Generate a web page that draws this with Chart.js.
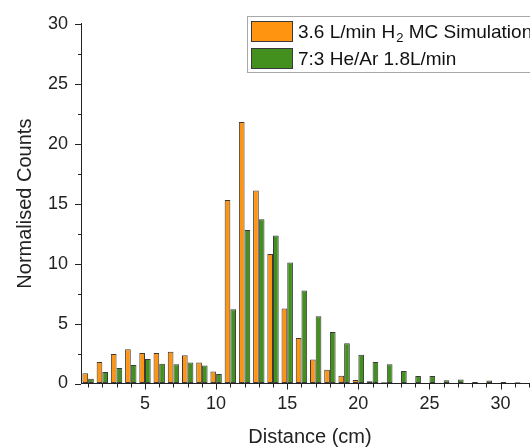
<!DOCTYPE html>
<html>
<head>
<meta charset="utf-8">
<script src="https://cdn.jsdelivr.net/npm/chart.js@4.4.1/dist/chart.umd.min.js"></script>
<style>
  html, body { margin: 0; padding: 0; background: #fff; overflow: hidden; width: 530px; height: 448px; }
  canvas { display: block; }
</style>
</head>
<body>
<canvas id="chart" width="545" height="448"></canvas>
<script>
// Bin centres (cm)
const distanceCm = [1, 2, 3, 4, 5, 6, 7, 8, 9, 10, 11, 12, 13, 14, 15, 16,
                    17, 18, 19, 20, 21, 22, 23, 24, 25, 26, 27, 28, 29, 30, 31, 32];

// 3.6 L/min H2 Monte Carlo simulation
const h2Simulation = [0.85, 1.8, 2.45, 2.85, 2.55, 2.55, 2.65, 2.35, 1.75, 1.0,
                      15.3, 21.8, 16.1, 10.8, 6.25, 3.8, 2.0, 1.15, 0.65, 0.3,
                      0.18, 0.1, 0.05, 0.02, 0, 0, 0, 0, 0, 0, 0, 0];

// 7:3 He/Ar at 1.8 L/min
const heArMeasured = [0.4, 0.95, 1.3, 1.55, 2.05, 1.65, 1.6, 1.75, 1.5, 0.8,
                      6.2, 12.8, 13.7, 12.35, 10.1, 7.75, 5.6, 4.3, 3.35, 2.4,
                      1.8, 1.6, 1.05, 0.62, 0.63, 0.27, 0.33, 0.12, 0.25, 0.12, 0.1, 0.05];

const xTickValues = [5, 10, 15, 20, 25, 30];
const yTickValues = [0, 5, 10, 15, 20, 25, 30];

const seriesNames = [
  ['3.6 L/min H', '2', ' MC Simulation'],
  ['7:3 He/Ar 1.8L/min', '', '']
];
const seriesColors = ['#FF9410', '#43901F'];
const outlineColor = '#3a3a3a';
const axisColor = '#222';
const FONT = 'Arial, "Liberation Sans", sans-serif';

// Outward tick marks: integers on x (long every 5), 2.5 steps on y (long every 5)
const axisTicks = {
  id: 'axisTicks',
  afterDraw(chart) {
    const { ctx, chartArea: a, scales: { x, y } } = chart;
    ctx.save();
    ctx.strokeStyle = axisColor;
    ctx.lineWidth = 1;
    ctx.beginPath();
    for (let v = Math.ceil(x.min); v <= x.max; v++) {
      const px = Math.round(x.getPixelForValue(v)) + 0.5;
      const len = v % 5 === 0 ? 6 : 4;
      ctx.moveTo(px, a.bottom);
      ctx.lineTo(px, a.bottom + len);
    }
    for (let v = y.min; v <= y.max; v += 2.5) {
      const py = Math.round(y.getPixelForValue(v)) + 0.5;
      const len = v % 5 === 0 ? 6 : 3;
      ctx.moveTo(a.left, py);
      ctx.lineTo(a.left - len, py);
    }
    ctx.stroke();
    ctx.restore();
  }
};

// Boxed legend in the upper right, with a subscript in the first entry
const boxedLegend = {
  id: 'boxedLegend',
  afterDraw(chart) {
    const { ctx } = chart;
    ctx.save();
    ctx.strokeStyle = '#a8a8a8';
    ctx.lineWidth = 1;
    ctx.strokeRect(247.5, 16.5, 320, 56);
    seriesNames.forEach((parts, i) => {
      const top = 21 + i * 27;
      ctx.fillStyle = seriesColors[i];
      ctx.fillRect(251, top, 42, 21);
      ctx.strokeStyle = outlineColor;
      ctx.strokeRect(251.5, top + 0.5, 41, 20);
      const base = top + 17;
      let tx = 298;
      ctx.fillStyle = '#111';
      ctx.textBaseline = 'alphabetic';
      ctx.textAlign = 'left';
      ctx.font = '19px ' + FONT;
      ctx.fillText(parts[0], tx, base);
      tx += ctx.measureText(parts[0]).width;
      if (parts[1]) {
        ctx.font = '13px ' + FONT;
        ctx.fillText(parts[1], tx + 1, base + 4);
        tx += ctx.measureText(parts[1]).width + 1;
      }
      if (parts[2]) {
        ctx.font = '19px ' + FONT;
        ctx.fillText(parts[2], tx, base);
      }
    });
    ctx.restore();
  }
};

const toPoints = vals => distanceCm.map((d, i) => ({ x: d, y: vals[i] }));

new Chart(document.getElementById('chart'), {
  type: 'bar',
  data: {
    datasets: [
      {
        label: seriesNames[0].join(''),
        data: toPoints(h2Simulation),
        backgroundColor: seriesColors[0],
        borderColor: outlineColor,
        borderWidth: 1,
        borderSkipped: false
      },
      {
        label: seriesNames[1].join(''),
        data: toPoints(heArMeasured),
        backgroundColor: seriesColors[1],
        borderColor: outlineColor,
        borderWidth: 1,
        borderSkipped: false
      }
    ]
  },
  options: {
    responsive: false,
    animation: false,
    categoryPercentage: 0.8,
    barPercentage: 1.0,
    layout: { padding: { top: 17, right: 6, bottom: 0, left: 0 } },
    plugins: { legend: { display: false }, tooltip: { enabled: false } },
    scales: {
      x: {
        type: 'linear',
        min: 0.5,
        max: 32.7,
        offset: false,
        grid: { display: true, drawOnChartArea: false, drawTicks: false, offset: false },
        border: { display: true, color: axisColor, width: 1 },
        ticks: {
          stepSize: 5,
          padding: 10,
          maxRotation: 0,
          autoSkip: false,
          color: '#222',
          font: { family: FONT, size: 18 }
        },
        afterBuildTicks: s => { s.ticks = xTickValues.map(v => ({ value: v })); },
        title: {
          display: true,
          text: 'Distance (cm)',
          color: '#222',
          font: { family: FONT, size: 20, lineHeight: 1 },
          padding: { top: 0, bottom: 1 }
        },
        afterFit: s => { s.height = 64.5; }
      },
      y: {
        min: 0,
        max: 30,
        grid: { display: true, drawOnChartArea: false, drawTicks: false },
        border: { display: true, color: axisColor, width: 1 },
        ticks: {
          stepSize: 5,
          padding: 13,
          color: '#222',
          font: { family: FONT, size: 18 }
        },
        afterBuildTicks: s => { s.ticks = yTickValues.map(v => ({ value: v })); },
        title: {
          display: true,
          text: 'Normalised Counts',
          color: '#222',
          font: { family: FONT, size: 20, lineHeight: 1 },
          padding: { top: 15, bottom: 0 }
        },
        afterFit: s => { s.width = 81; }
      }
    }
  },
  plugins: [axisTicks, boxedLegend]
});
</script>
</body>
</html>
